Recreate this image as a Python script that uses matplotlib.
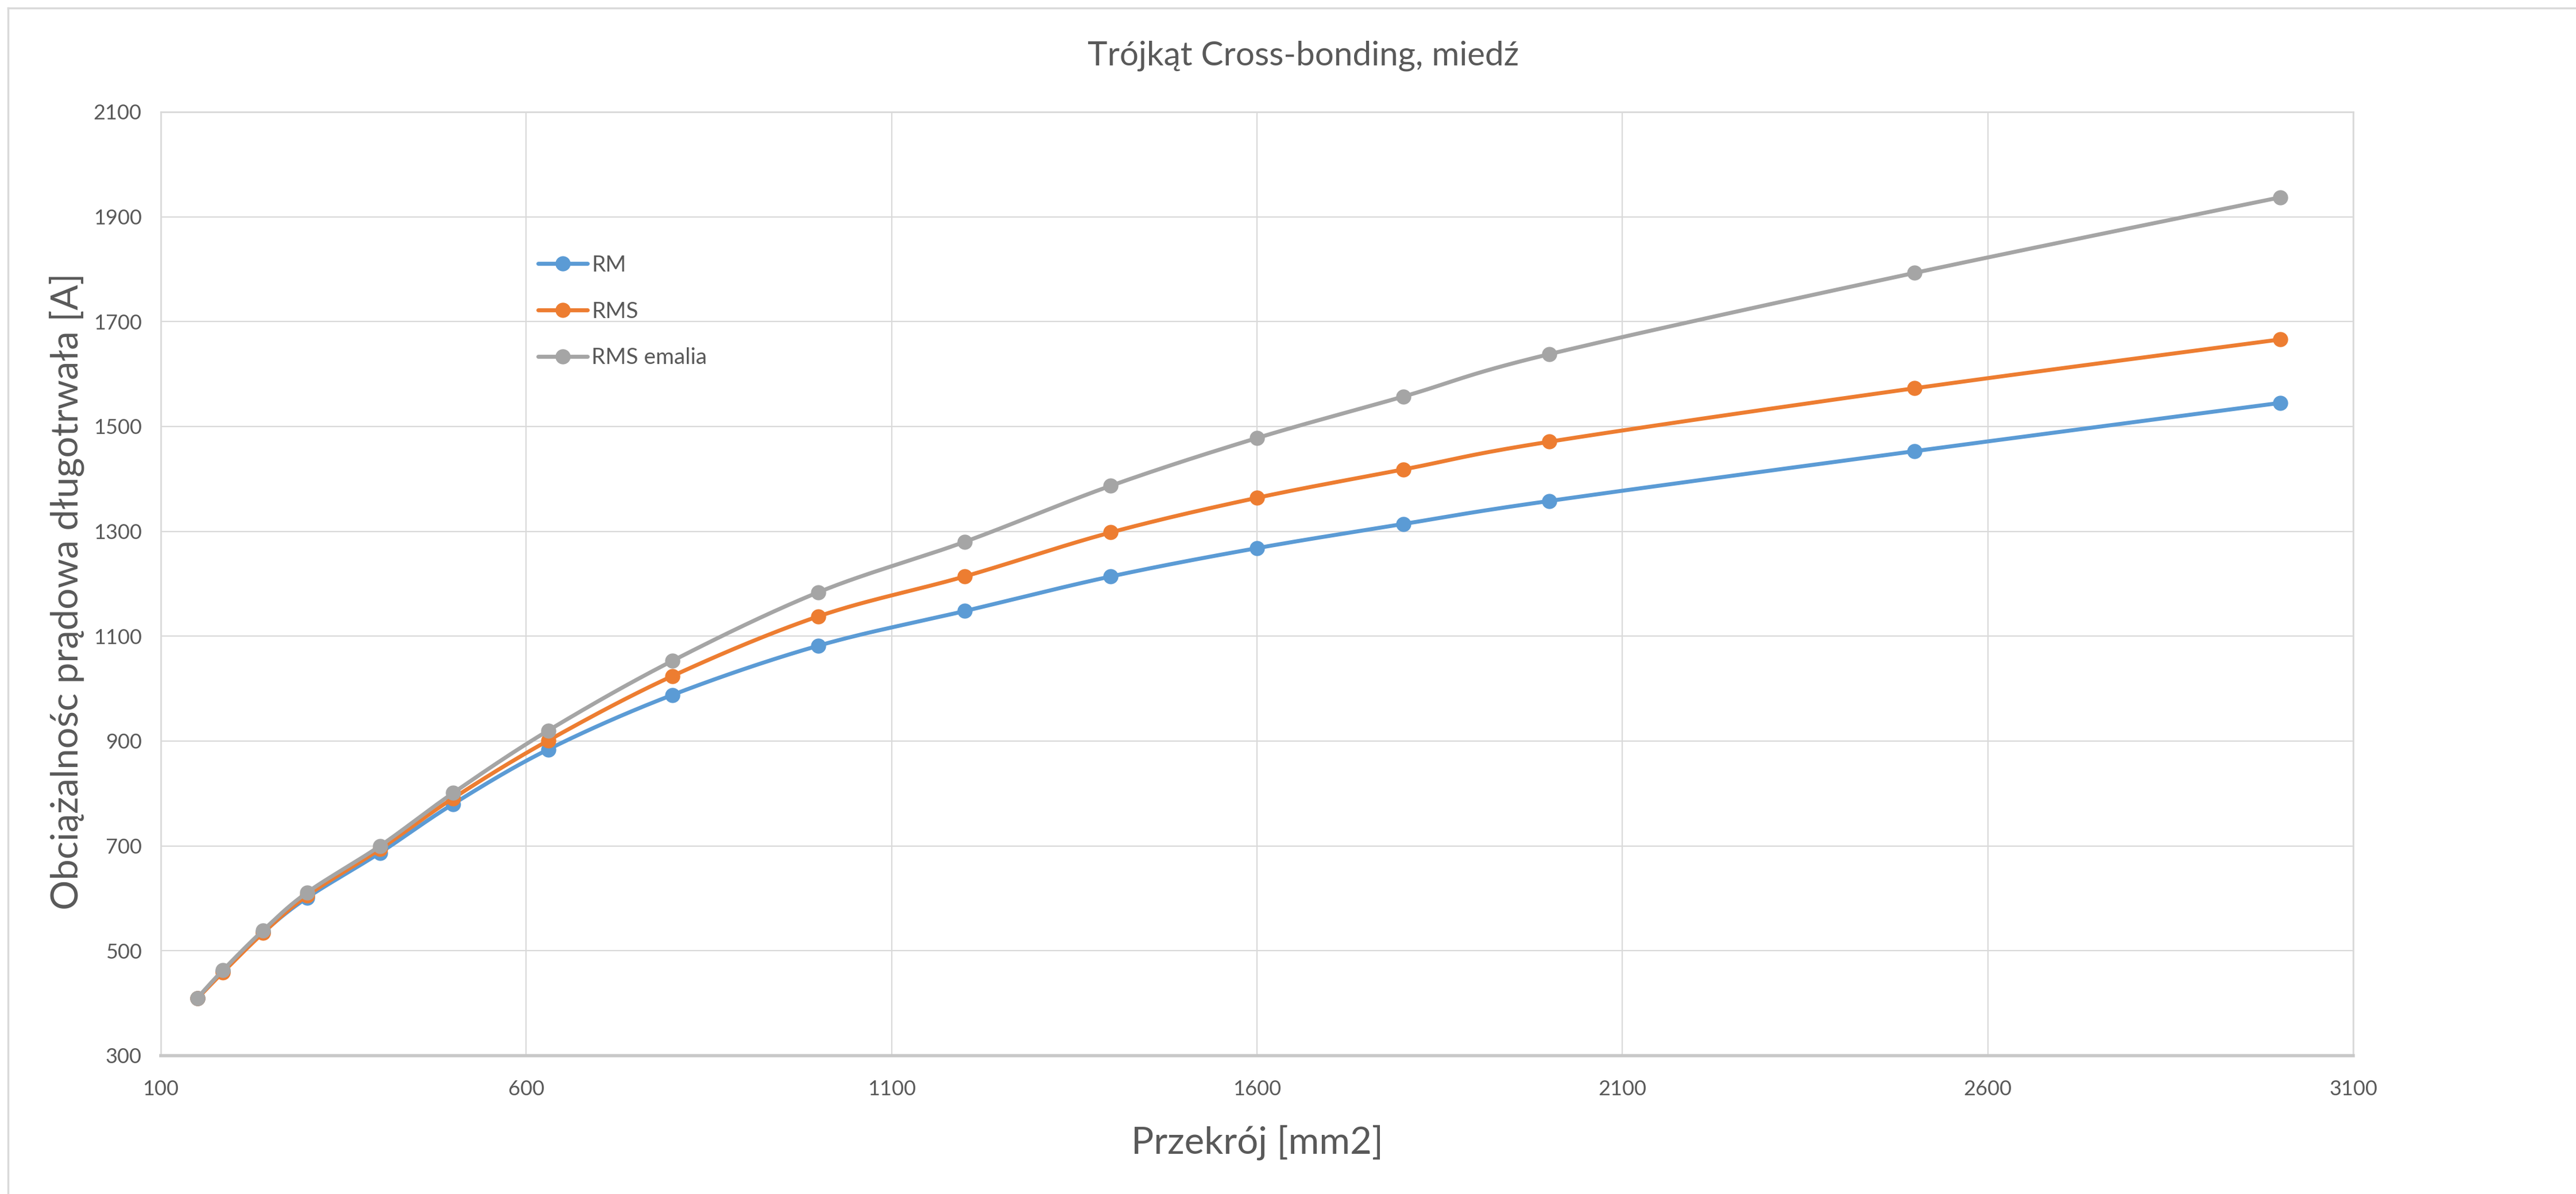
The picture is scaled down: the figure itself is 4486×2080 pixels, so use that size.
import numpy as np
import matplotlib
matplotlib.use("Agg")
import matplotlib.pyplot as plt
from matplotlib.lines import Line2D

plt.rcParams["font.family"] = ["Lato", "DejaVu Sans"]

# data
przekroj = [150, 185, 240, 300, 400, 500, 630, 800, 1000, 1200, 1400, 1600, 1800, 2000, 2500, 3000]
rm = [409, 461, 535, 601, 687, 780, 884, 988, 1082, 1148, 1214, 1268, 1314, 1358, 1453, 1545]
rms = [409, 459, 534, 605, 694, 791, 901, 1024, 1138, 1214, 1298, 1364, 1418, 1471, 1573, 1666]
rms_emalia = [410, 463, 539, 611, 700, 801, 920, 1053, 1184, 1280, 1387, 1478, 1557, 1638, 1793, 1937]

series = [("RM", rm, "#5B9BD5"), ("RMS", rms, "#ED7D31"), ("RMS emalia", rms_emalia, "#A5A5A5")]
text_col = "#595959"
grid_col = "#D9D9D9"


def smooth(x, y, n=30):
    # Excel-style smoothed line: cubic bezier through the points
    x = np.asarray(x, float)
    y = np.asarray(y, float)
    p = np.column_stack([x, y])
    out = []
    t = np.linspace(0, 1, n, endpoint=False)[:, None]
    for i in range(len(p) - 1):
        p0 = p[i - 1] if i > 0 else p[i]
        p3 = p[i + 2] if i + 2 < len(p) else p[i + 1]
        c1 = p[i] + (p[i + 1] - p0) / 6
        c2 = p[i + 1] - (p3 - p[i]) / 6
        seg = ((1 - t) ** 3) * p[i] + 3 * ((1 - t) ** 2) * t * c1 + 3 * (1 - t) * t ** 2 * c2 + t ** 3 * p[i + 1]
        out.append(seg)
    out.append(p[-1:])
    out = np.vstack(out)
    marks = [i * n for i in range(len(p))]
    return out[:, 0], out[:, 1], marks


fig = plt.figure(figsize=(44.86, 20.80), dpi=100)
ax = fig.add_axes([280 / 4486, 1 - 1839 / 2080, (4098 - 280) / 4486, (1839 - 195) / 2080])

for name, vals, col in series:
    sx, sy, marks = smooth(przekroj, vals)
    ax.plot(sx, sy, color=col, lw=5, marker="o", markevery=marks, ms=18,
            solid_capstyle="round", label=name, zorder=3)

ax.set_xlim(100, 3100)
ax.set_ylim(300, 2100)
ax.set_xticks(np.arange(100, 3101, 500))
ax.set_yticks(np.arange(300, 2101, 200))
ax.grid(True, color=grid_col, lw=1.6)
ax.tick_params(length=0, labelsize=26, colors=text_col)
ax.tick_params(axis="x", pad=30)
ax.tick_params(axis="y", pad=24)
for s in ["left", "right", "top"]:
    ax.spines[s].set_color(grid_col)
    ax.spines[s].set_linewidth(2)
ax.spines["bottom"].set_color("#C8C8C8")
ax.spines["bottom"].set_linewidth(4)

ax.legend(loc="upper left", bbox_to_anchor=(937 / 4486, 1 - 444 / 2080),
          bbox_transform=fig.transFigure, frameon=False, fontsize=28,
          handlelength=2.2, handletextpad=0.2, labelspacing=1.15, borderpad=0,
          borderaxespad=0, labelcolor=text_col)

fig.text(2270 / 4486, 1 - 97 / 2080, "Trójkąt Cross-bonding, miedź", ha="center", va="center",
         fontsize=42, color=text_col)
fig.text(2189 / 4486, 1 - 1990 / 2080, "Przekrój [mm2]", ha="center", va="center",
         fontsize=47, color=text_col)
fig.text(116 / 4486, 1 - 1030 / 2080, "Obciążalnośc prądowa długotrwała [A]", ha="center", va="center",
         rotation=90, fontsize=47, color=text_col)

# outer chart border (top and left visible)
fig.add_artist(Line2D([14 / 4486, 14 / 4486], [0, 1 - 14 / 2080], transform=fig.transFigure,
                      color=grid_col, lw=2.5))
fig.add_artist(Line2D([14 / 4486, 1], [1 - 14 / 2080, 1 - 14 / 2080], transform=fig.transFigure,
                      color=grid_col, lw=2.5))

fig.savefig("out.png", dpi=100)
